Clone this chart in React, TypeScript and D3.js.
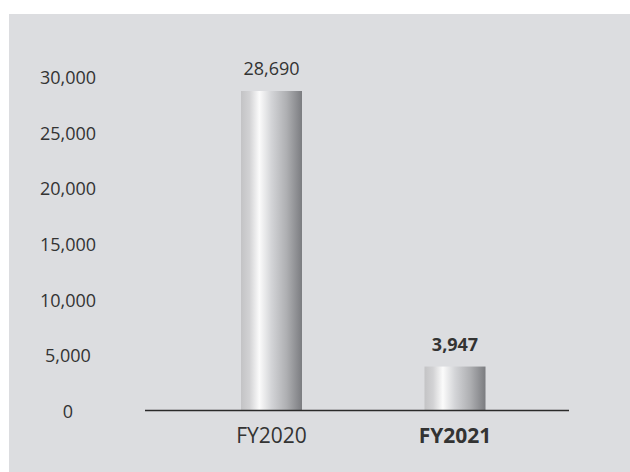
import React from "react";
import * as d3 from "d3";

const categories = ["FY2020", "FY2021"];
const values = [28690, 3947];
const valueLabels = ["28,690", "3,947"];
const boldFlags = [false, true];
const yTicks = [0, 5000, 10000, 15000, 20000, 25000, 30000];

export default function App() {
  const W = 630;
  const H = 472;
  const y = d3.scaleLinear().domain([0, 30000]).range([410.5, 76.4]);
  const x = d3.scalePoint<string>().domain(categories).range([271.5, 455]);
  const bw = 61;
  const font = "'Open Sans', 'DejaVu Sans', sans-serif";
  const fmt = d3.format(",");
  return (
    <div style={{ position: "absolute", left: 0, top: 0 }}>
      <svg width={W} height={H} style={{ display: "block" }}>
        <defs>
          <linearGradient id="barGrad" x1="0" x2="1" y1="0" y2="0">
            <stop offset="0" stopColor="#c3c3c5" />
            <stop offset="0.14" stopColor="#d2d2d4" />
            <stop offset="0.3" stopColor="#fbfbfb" />
            <stop offset="0.5" stopColor="#d3d4d7" />
            <stop offset="0.75" stopColor="#aeafb2" />
            <stop offset="1" stopColor="#7b7c80" />
          </linearGradient>
        </defs>
        <rect x={0} y={0} width={W} height={H} fill="#ffffff" />
        <rect x={9} y={14} width={W - 9} height={H - 14} fill="#dcdde0" />
        {yTicks.map((t) => (
          <text
            key={t}
            x={68}
            y={y(t) + 7.5}
            textAnchor="middle"
            fontFamily={font}
            fontSize={18}
            fill="#333"
          >
            {fmt(t)}
          </text>
        ))}
        {categories.map((c, i) => {
          const cx = x(c) as number;
          return (
            <g key={c}>
              <rect
                x={cx - bw / 2}
                y={y(values[i])}
                width={bw}
                height={y(0) - y(values[i])}
                fill="url(#barGrad)"
              />
              <text
                x={cx}
                y={y(values[i]) - 16}
                textAnchor="middle"
                fontFamily={font}
                fontSize={18}
                fontWeight={boldFlags[i] ? 700 : 400}
                fill="#333"
              >
                {valueLabels[i]}
              </text>
              <text
                x={cx}
                y={443}
                textAnchor="middle"
                fontFamily={font}
                fontSize={21}
                fontWeight={boldFlags[i] ? 700 : 400}
                fill="#333"
              >
                {c}
              </text>
            </g>
          );
        })}
        <line x1={145} x2={569} y1={y(0)} y2={y(0)} stroke="#2a2a2a" strokeWidth={1.5} />
      </svg>
    </div>
  );
}
